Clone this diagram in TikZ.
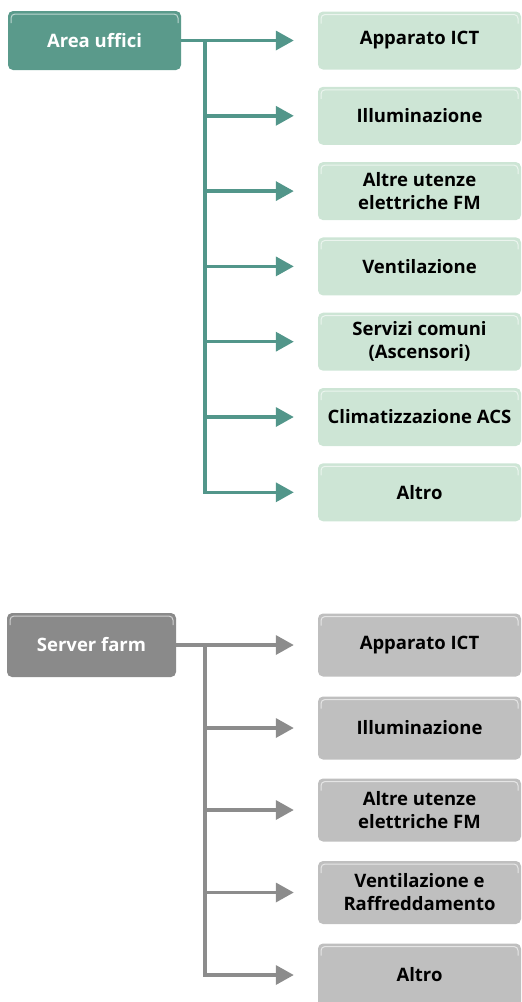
\documentclass[tikz,border=0pt]{standalone}
\usepackage{fontspec}
\setmainfont{Open Sans}
\usetikzlibrary{arrows.meta}

% colours
\definecolor{ufficidark}{HTML}{5A9A8B}
\definecolor{ufficiline}{HTML}{52968A}
\definecolor{ufficilight}{HTML}{CDE5D5}
\definecolor{farmdark}{HTML}{8A8A8A}
\definecolor{farmline}{HTML}{8C8C8C}
\definecolor{farmlight}{HTML}{BFBFBF}

\tikzset{
  box/.style={rounded corners=5pt, inner sep=0pt, align=center,
    font=\bfseries\fontsize{18.5}{23}\selectfont,
    path picture={\draw[white, opacity=.6, line width=1pt, rounded corners=4pt]
      ([shift={(3pt,-12pt)}]path picture bounding box.north west)
      -- ([shift={(3pt,-3pt)}]path picture bounding box.north west)
      -- ([shift={(-3pt,-3pt)}]path picture bounding box.north east)
      -- ([shift={(-3pt,-12pt)}]path picture bounding box.north east);}},
  parentbox/.style={box, text=white},
  childbox/.style={box, text=black, minimum width=203pt},
  link/.style={line width=3.5pt, -{Triangle[length=18pt,width=19pt]}, shorten >=24pt},
}

\begin{document}
\begin{tikzpicture}[x=1pt,y=-1pt]
\useasboundingbox (0,0) rectangle (522,1002);

% Area uffici
\node[parentbox, fill=ufficidark, minimum width=173pt, minimum height=59pt] (uffici) at (94.5,40.5) {Area uffici};
\coordinate (ju) at (205,40.5);
\foreach \n/\y/\t in {1/40.5/{Apparato ICT}, 2/115.8/{Illuminazione},
    3/191.1/{Altre utenze\\elettriche FM}, 4/266.4/{Ventilazione},
    5/341.7/{Servizi comuni\\(Ascensori)}, 6/417/{Climatizzazione ACS},
    7/492.3/{Altro}}
  \node[childbox, fill=ufficilight, minimum height=58pt] (u\n) at (419.5,\y) {\t};

\draw[link, ufficiline] (uffici) -- (u1);
\foreach \n in {2,...,7}
  \draw[link, ufficiline] (ju) |- (u\n);

% Server farm
\node[parentbox, fill=farmdark, minimum width=169pt, minimum height=64pt] (farm) at (91.5,645) {Server farm};
\coordinate (jf) at (205,645);
\foreach \n/\y/\t in {1/645/{Apparato ICT}, 2/728/{Illuminazione},
    3/810/{Altre utenze\\elettriche FM}, 4/892.5/{Ventilazione e\\Raffreddamento},
    5/975/{Altro}}
  \node[childbox, fill=farmlight, minimum height=63pt] (s\n) at (419.5,\y) {\t};

\draw[link, farmline] (farm) -- (s1);
\foreach \n in {2,...,5}
  \draw[link, farmline] (jf) |- (s\n);

\end{tikzpicture}
\end{document}
